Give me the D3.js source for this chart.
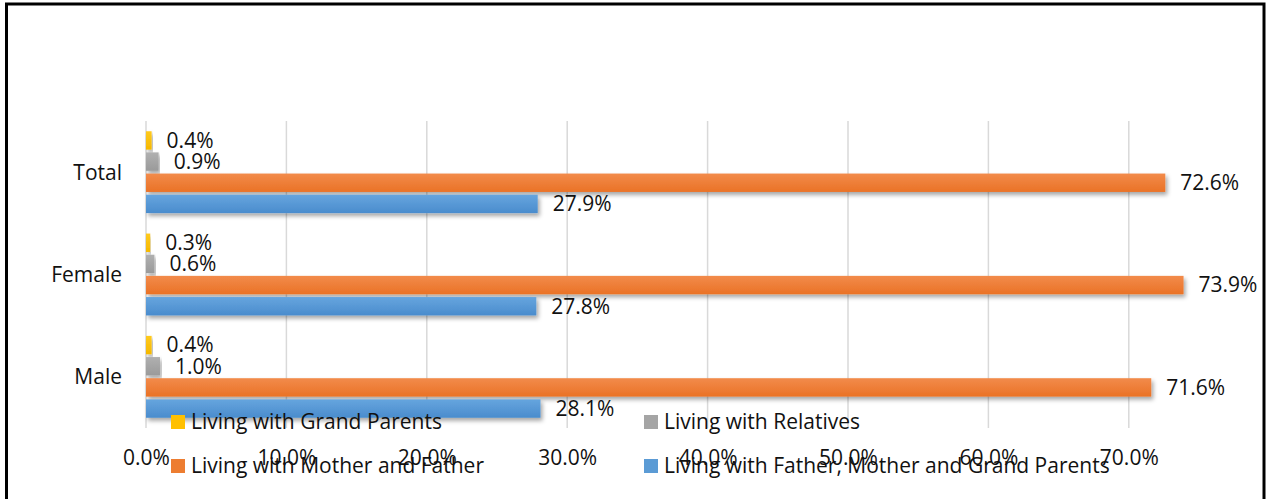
<!DOCTYPE html>
<html>
<head>
<meta charset="utf-8">
<script src="https://cdn.jsdelivr.net/npm/d3@7"></script>
<style>
  html, body { margin: 0; padding: 0; background: #fff; }
  svg { display: block; }
  text { font-family: "Open Sans", "Noto Sans", sans-serif; fill: #111; }
</style>
</head>
<body>
<svg id="chart" width="1266" height="499"></svg>
<script>
// Living arrangement by sex (share of respondents, %)
const categories = ["Total", "Female", "Male"];
const seriesNames = [
  "Living with Grand Parents",
  "Living with Relatives",
  "Living with Mother and Father",
  "Living with Father, Mother and Grand Parents"
];
const grandParents       = [0.4, 0.3, 0.4];
const relatives          = [0.9, 0.6, 1.0];
const motherFather       = [72.6, 73.9, 71.6];
const fatherMotherGrand  = [27.9, 27.8, 28.1];
const tickValues = [0, 10, 20, 30, 40, 50, 60, 70];
const tickLabels = ["0.0%", "10.0%", "20.0%", "30.0%", "40.0%", "50.0%", "60.0%", "70.0%"];

const seriesValues = [grandParents, relatives, motherFather, fatherMotherGrand];
const colors = [
  ["#ffca1f", "#f5b800"],
  ["#b0b0b0", "#9a9a9a"],
  ["#f28b4b", "#ea7226"],
  ["#66a5de", "#4a8ccd"]
];
const legendColors = ["#ffc000", "#a5a5a5", "#ed7d31", "#5b9bd5"];
const fontSize = "21px";

const svg = d3.select("#chart");
const defs = svg.append("defs");

colors.forEach((c, i) => {
  const g = defs.append("linearGradient")
    .attr("id", "grad" + i).attr("x1", 0).attr("y1", 0).attr("x2", 0).attr("y2", 1);
  g.append("stop").attr("offset", "0%").attr("stop-color", c[0]);
  g.append("stop").attr("offset", "100%").attr("stop-color", c[1]);
});

const shadow = defs.append("filter").attr("id", "shadow")
  .attr("x", "-5%").attr("y", "-30%").attr("width", "115%").attr("height", "180%");
shadow.append("feDropShadow")
  .attr("dx", 2).attr("dy", 3).attr("stdDeviation", 2)
  .attr("flood-color", "#000").attr("flood-opacity", 0.35);

// outer frame
svg.append("rect")
  .attr("x", 6.5).attr("y", 4).attr("width", 1257.5).attr("height", 600)
  .attr("fill", "none").attr("stroke", "#000").attr("stroke-width", 3);

const plotTop = 121, plotBottom = 428;
const x = d3.scaleLinear().domain([0, 75]).range([146, 146 + 140.4 * 7.5]);
const y = d3.scaleBand().domain(categories).range([plotTop, plotBottom])
  .paddingInner(0.2).paddingOuter(0.1);
const ySub = d3.scaleBand().domain(d3.range(seriesNames.length))
  .range([0, y.bandwidth()]).paddingInner(0.13);

// vertical gridlines
svg.append("g").selectAll("line").data(tickValues).join("line")
  .attr("x1", d => x(d)).attr("x2", d => x(d))
  .attr("y1", plotTop).attr("y2", plotBottom)
  .attr("stroke", "#d9d9d9").attr("stroke-width", 1.5);

// x axis tick labels
const xAxis = d3.axisBottom(x).tickValues(tickValues)
  .tickFormat((d, i) => tickLabels[i]).tickSize(0).tickPadding(0);
const xg = svg.append("g").attr("transform", "translate(0,458)").call(xAxis);
xg.select(".domain").remove();
xg.selectAll("text").attr("dy", "0.35em").attr("y", 0)
  .style("font-size", fontSize).style("font-family", "'Open Sans', sans-serif").attr("fill", "#111");

// category labels
const yAxis = d3.axisLeft(y).tickSize(0).tickPadding(0);
const yg = svg.append("g").attr("transform", "translate(122,0)").call(yAxis);
yg.select(".domain").remove();
yg.selectAll("text").attr("x", 0).attr("dy", "0.35em")
  .style("font-size", fontSize).style("font-family", "'Open Sans', sans-serif").attr("fill", "#111");

// bars and value labels
const rows = [];
categories.forEach((cat, ci) => {
  seriesValues.forEach((vals, si) => rows.push({ cat, si, v: vals[ci] }));
});

svg.append("g").selectAll("rect").data(rows).join("rect")
  .attr("x", x(0))
  .attr("y", d => y(d.cat) + ySub(d.si))
  .attr("width", d => x(d.v) - x(0))
  .attr("height", ySub.bandwidth())
  .attr("fill", d => `url(#grad${d.si})`)
  .attr("filter", "url(#shadow)");

svg.append("g").selectAll("text").data(rows).join("text")
  .attr("x", d => x(d.v) + 15)
  .attr("y", d => y(d.cat) + ySub(d.si) + ySub.bandwidth() / 2)
  .attr("dy", "0.35em")
  .style("font-size", fontSize)
  .text(d => d.v.toFixed(1) + "%");

// legend (two columns, two rows)
const legendPos = [
  { mx: 171, tx: 191, cy: 422 },
  { mx: 644, tx: 664, cy: 422 },
  { mx: 171, tx: 191, cy: 466 },
  { mx: 644, tx: 664, cy: 466 }
];
const lg = svg.append("g").selectAll("g").data(seriesNames).join("g");
lg.append("rect")
  .attr("x", (d, i) => legendPos[i].mx)
  .attr("y", (d, i) => legendPos[i].cy - 7)
  .attr("width", 14).attr("height", 14)
  .attr("fill", (d, i) => legendColors[i]);
lg.append("text")
  .attr("x", (d, i) => legendPos[i].tx)
  .attr("y", (d, i) => legendPos[i].cy)
  .attr("dy", "0.35em")
  .style("font-size", fontSize)
  .text(d => d);
</script>
</body>
</html>
